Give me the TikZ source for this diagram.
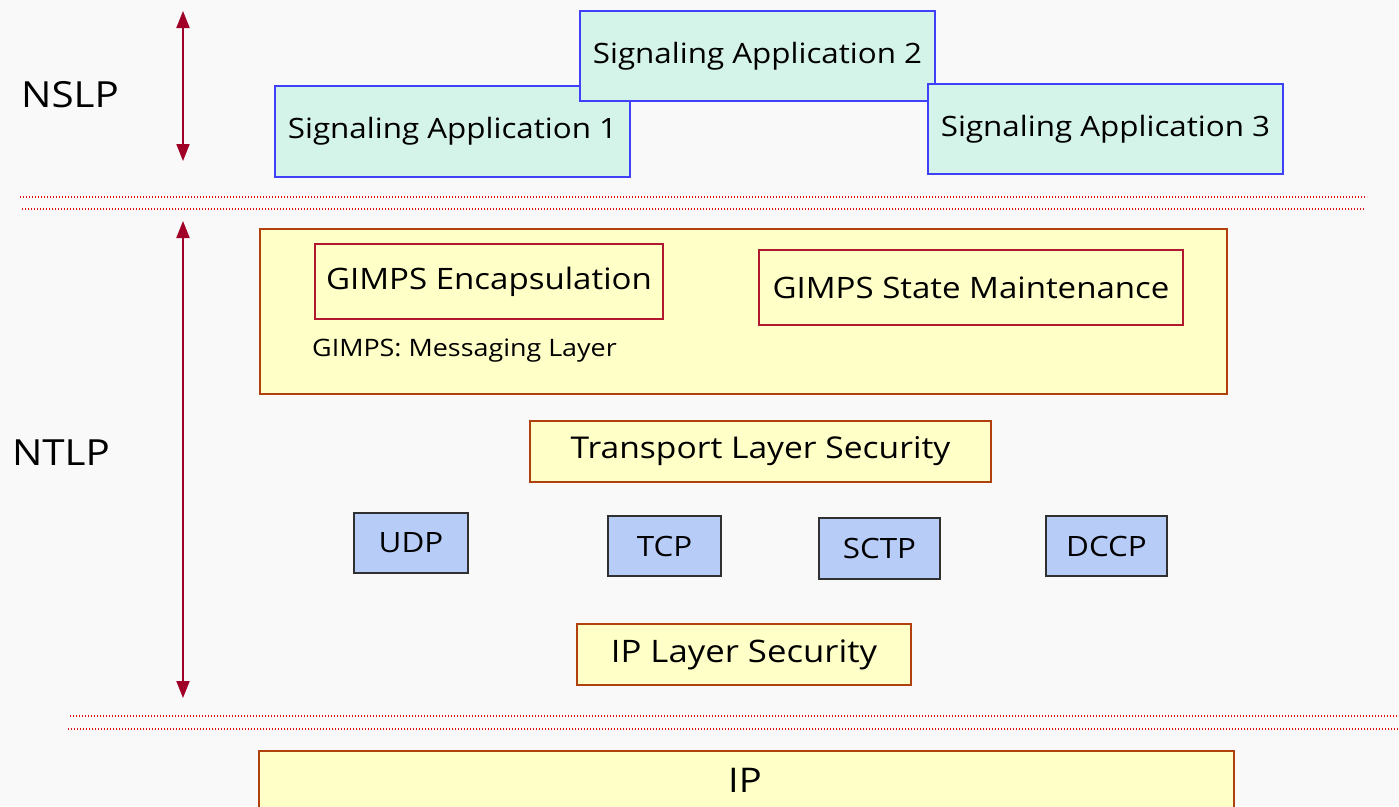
\documentclass[tikz,border=0pt]{standalone}
\usepackage{fontspec}
\setmainfont[FakeStretch=1.12]{Open Sans}
\usetikzlibrary{arrows.meta}
\definecolor{bgc}{HTML}{F9F9F9}
\definecolor{mint}{HTML}{D4F4EA}
\definecolor{bluebd}{HTML}{4040F8}
\definecolor{yel}{HTML}{FFFFC8}
\definecolor{brownbd}{HTML}{B0400C}
\definecolor{crim}{HTML}{B01830}
\definecolor{lblue}{HTML}{B8CCF8}
\definecolor{darkbd}{HTML}{303030}
\definecolor{arrc}{HTML}{A00028}
\definecolor{dotred}{HTML}{E01010}
\tikzset{
  box/.style={draw, line width=2pt, anchor=north west, inner sep=0pt, font=\fontsize{28}{32}\selectfont},
  appbox/.style={box, fill=mint, draw=bluebd},
  yelbox/.style={box, fill=yel, draw=brownbd, font=\fontsize{30}{34}\selectfont},
  gbox/.style={box, fill=yel, draw=crim, font=\fontsize{29.5}{34}\selectfont},
  protobox/.style={box, fill=lblue, draw=darkbd},
  layerlbl/.style={font=\fontsize{36}{40}\selectfont},
  dotline/.style={draw=dotred, line width=1.6pt, dash pattern=on 1.2pt off 1.8pt},
  span/.style={draw=arrc, line width=2pt, {Triangle[width=13pt,length=17pt]}-{Triangle[width=13pt,length=17pt]}}
}
\begin{document}
\begin{tikzpicture}[x=1pt,y=-1pt]
\fill[bgc] (0,0) rectangle (1399,806);
\useasboundingbox (0,0) rectangle (1399,806);
% labels
\node[layerlbl] (nslp) at (70,95) {NSLP};
\node[layerlbl] (ntlp) at (61,453) {NTLP};
% arrows
\coordinate (a1t) at (183,11);
\coordinate (a1b) at (183,161);
\coordinate (a2t) at (183,221);
\coordinate (a2b) at (183,698);
\draw[span] (a1t) -- (a1b);
\draw[span] (a2t) -- (a2b);
% signaling apps
\node[appbox, minimum width=355pt, minimum height=91pt] (app1) at (274,85) {Signaling Application 1};
\node[appbox, minimum width=355pt, minimum height=90pt] (app2) at (579,10) {Signaling Application 2};
\node[appbox, minimum width=355pt, minimum height=90pt] (app3) at (927,83) {Signaling Application 3};
% dotted separators
\coordinate (d1a) at (20,197); \coordinate (d1b) at (1367,197);
\coordinate (d2a) at (22,209); \coordinate (d2b) at (1365,209);
\coordinate (d3a) at (70,716); \coordinate (d3b) at (1399,716);
\coordinate (d4a) at (68,729); \coordinate (d4b) at (1399,729);
\draw[dotline] (d1a) -- (d1b);
\draw[dotline] (d2a) -- (d2b);
\draw[dotline] (d3a) -- (d3b);
\draw[dotline] (d4a) -- (d4b);
% GIMPS messaging layer
\node[yelbox, minimum width=967pt, minimum height=165pt] (msg) at (259,228) {};
\node[gbox, minimum width=348pt, minimum height=75pt] (enc) at (314,243) {GIMPS Encapsulation};
\node[gbox, minimum width=424pt, minimum height=75pt] (state) at (758,249) {GIMPS State Maintenance};
\node[anchor=west, inner sep=0pt, font=\fontsize{24}{28}\selectfont] (msglbl) at (312,351) {GIMPS: Messaging Layer};
% TLS
\node[yelbox, minimum width=461pt, minimum height=61pt] (tls) at (529,420) {Transport Layer Security};
% transports
\node[protobox, minimum width=114pt, minimum height=60pt] (udp) at (353,512) {UDP};
\node[protobox, minimum width=113pt, minimum height=60pt] (tcp) at (607,515) {TCP};
\node[protobox, minimum width=121pt, minimum height=61pt] (sctp) at (818,517) {SCTP};
\node[protobox, minimum width=121pt, minimum height=60pt] (dccp) at (1045,515) {DCCP};
% IPsec
\node[yelbox, font=\fontsize{31}{35}\selectfont, minimum width=334pt, minimum height=61pt] (ipsec) at (576,623) {IP Layer Security};
% IP
\node[yelbox, minimum width=975pt, minimum height=70pt] (ip) at (258,750) {};
\node[font=\fontsize{34}{38}\selectfont] (iplbl) at (745,780) {IP};
\end{tikzpicture}
\end{document}
